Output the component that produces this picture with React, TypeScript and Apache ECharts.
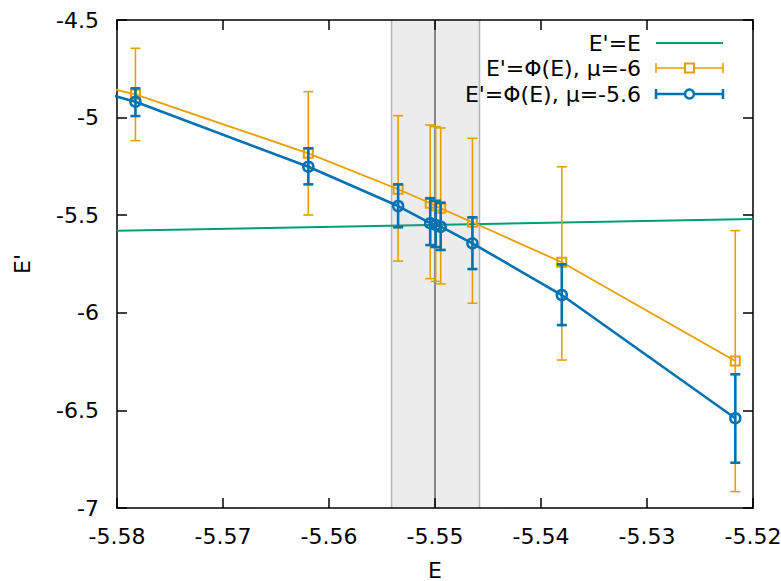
import React, { useEffect, useRef } from "react";
import * as echarts from "echarts";

// Energies E (x) of the sample points (first one lies just left of the plotted range)
const energies = [-5.59, -5.57826, -5.56195, -5.55348, -5.55045, -5.54993, -5.54946, -5.54647, -5.53804, -5.52167];
// E' = Φ(E), μ = -6
const phiMu6 = [-4.728, -4.881, -5.183, -5.367, -5.439, -5.453, -5.465, -5.536, -5.741, -6.247];
const phiMu6Low = [-4.95, -5.118, -5.499, -5.735, -5.825, -5.839, -5.852, -5.951, -6.242, -6.916];
const phiMu6High = [-4.5, -4.645, -4.867, -4.99, -5.038, -5.046, -5.053, -5.106, -5.252, -5.579];
// E' = Φ(E), μ = -5.6
const phiMu56 = [-4.742, -4.9185, -5.2515, -5.453, -5.541, -5.55, -5.559, -5.644, -5.909, -6.54];
const phiMu56Low = [-4.81, -4.992, -5.342, -5.562, -5.653, -5.663, -5.678, -5.776, -6.063, -6.768];
const phiMu56High = [-4.67, -4.85, -5.157, -5.342, -5.413, -5.426, -5.436, -5.511, -5.752, -6.315];
// Identity line E' = E
const identityE = [-5.58, -5.52];
// Shaded uncertainty band and its centre
const bandRange = [-5.5541, -5.5458];
const bandCentre = -5.55;

const xTicks = { min: -5.58, max: -5.52, interval: 0.01 };
const yTicks = { min: -7, max: -4.5, interval: 0.5 };

const legendLabels = ["E'=E", "E'=Φ(E), μ=-6", "E'=Φ(E), μ=-5.6"];

const GREEN = "#009e73";
const ORANGE = "#e69f00";
const BLUE = "#0072b2";
const FONT = "DejaVu Sans";
const FS = 22;

function errorBarSeries(name: string, low: number[], high: number[], color: string, width: number, z: number) {
  return {
    type: "custom",
    name,
    z,
    clip: true,
    data: energies.map((e, i) => [e, low[i], high[i]]),
    encode: { x: 0, y: [1, 2] },
    renderItem: (params: any, api: any) => {
      const x = api.value(0);
      const lo = api.coord([x, api.value(1)]);
      const hi = api.coord([x, api.value(2)]);
      const half = 5;
      const style = { stroke: color, lineWidth: width };
      return {
        type: "group",
        children: [
          { type: "line", shape: { x1: lo[0], y1: lo[1], x2: hi[0], y2: hi[1] }, style },
          { type: "line", shape: { x1: lo[0] - half, y1: lo[1], x2: lo[0] + half, y2: lo[1] }, style },
          { type: "line", shape: { x1: hi[0] - half, y1: hi[1], x2: hi[0] + half, y2: hi[1] }, style },
        ],
      };
    },
  };
}

export default function App() {
  const ref = useRef<HTMLDivElement>(null);

  useEffect(() => {
    if (!ref.current) return;
    const chart = echarts.init(ref.current, undefined, { renderer: "svg" });

    const axisLine = { show: true, lineStyle: { color: "#000", width: 1.5 } };
    const axisTick = { show: true, inside: true, length: 10, lineStyle: { color: "#000", width: 1.5 } };
    const labelStyle = { fontSize: FS, color: "#000", fontFamily: FONT };

    // legend geometry
    const lx1 = 656, lx2 = 723, lxm = (lx1 + lx2) / 2, textX = 641;
    const rows = [43, 68, 94];
    const legendGraphics: any[] = [];
    legendLabels.forEach((t, i) => {
      legendGraphics.push({
        type: "text",
        x: textX,
        y: rows[i],
        style: { text: t, fill: "#000", font: `${FS}px '${FONT}'`, textAlign: "right", textVerticalAlign: "middle" },
        z: 100,
      });
    });
    legendGraphics.push({ type: "line", shape: { x1: lx1, y1: rows[0], x2: lx2, y2: rows[0] }, style: { stroke: GREEN, lineWidth: 2 }, z: 100 });
    const capRow = (y: number, color: string, w: number) => [
      { type: "line", shape: { x1: lx1, y1: y, x2: lx2, y2: y }, style: { stroke: color, lineWidth: w }, z: 100 },
      { type: "line", shape: { x1: lx1, y1: y - 5, x2: lx1, y2: y + 5 }, style: { stroke: color, lineWidth: w }, z: 100 },
      { type: "line", shape: { x1: lx2, y1: y - 5, x2: lx2, y2: y + 5 }, style: { stroke: color, lineWidth: w }, z: 100 },
    ];
    legendGraphics.push(...capRow(rows[1], ORANGE, 1.6));
    legendGraphics.push({ type: "rect", shape: { x: lxm - 4.5, y: rows[1] - 4.5, width: 9, height: 9 }, style: { fill: "#fff", stroke: ORANGE, lineWidth: 2 }, z: 101 });
    legendGraphics.push(...capRow(rows[2], BLUE, 2.6));
    legendGraphics.push({ type: "circle", shape: { cx: lxm, cy: rows[2], r: 4.5 }, style: { fill: "#fff", stroke: BLUE, lineWidth: 2.5 }, z: 101 });

    const option: any = {
      animation: false,
      backgroundColor: "#fff",
      grid: { left: 117, right: 28, top: 20, bottom: 73, outerBoundsMode: "none", containLabel: false },
      xAxis: [
        {
          type: "value",
          position: "bottom",
          min: xTicks.min,
          max: xTicks.max,
          interval: xTicks.interval,
          axisLine,
          axisTick,
          splitLine: { show: false },
          axisLabel: { ...labelStyle, margin: 17, formatter: (v: number) => v.toFixed(2) },
          name: "E",
          nameLocation: "middle",
          nameGap: 52,
          nameTextStyle: { ...labelStyle, lineHeight: 20 },
        },
        {
          type: "value",
          position: "top",
          min: xTicks.min,
          max: xTicks.max,
          interval: xTicks.interval,
          axisLine,
          axisTick,
          splitLine: { show: false },
          axisLabel: { show: false },
        },
      ],
      yAxis: [
        {
          type: "value",
          position: "left",
          min: yTicks.min,
          max: yTicks.max,
          interval: yTicks.interval,
          axisLine,
          axisTick,
          splitLine: { show: false },
          axisLabel: { ...labelStyle, margin: 18 },
          name: "E'",
          nameLocation: "middle",
          nameGap: 84,
          nameRotate: 90,
          nameTextStyle: labelStyle,
        },
        {
          type: "value",
          position: "right",
          min: yTicks.min,
          max: yTicks.max,
          interval: yTicks.interval,
          axisLine,
          axisTick,
          splitLine: { show: false },
          axisLabel: { show: false },
        },
      ],
      series: [
        {
          type: "custom",
          name: "band",
          z: 0,
          data: [[bandRange[0], bandRange[1], bandCentre]],
          encode: { x: [0, 1, 2] },
          renderItem: (params: any, api: any) => {
            const cs = params.coordSys;
            const y0 = cs.y, y1 = cs.y + cs.height;
            const a = api.coord([api.value(0), yTicks.min])[0];
            const b = api.coord([api.value(1), yTicks.min])[0];
            const c = api.coord([api.value(2), yTicks.min])[0];
            return {
              type: "group",
              children: [
                { type: "rect", shape: { x: a, y: y0, width: b - a, height: y1 - y0 }, style: { fill: "#ececec" } },
                { type: "line", shape: { x1: a, y1: y0, x2: a, y2: y1 }, style: { stroke: "#b4b4b4", lineWidth: 1.5 } },
                { type: "line", shape: { x1: b, y1: y0, x2: b, y2: y1 }, style: { stroke: "#b4b4b4", lineWidth: 1.5 } },
                { type: "line", shape: { x1: c, y1: y0, x2: c, y2: y1 }, style: { stroke: "#666", lineWidth: 1.5 } },
              ],
            };
          },
        },
        {
          type: "line",
          name: legendLabels[0],
          z: 2,
          data: identityE.map((e) => [e, e]),
          symbol: "none",
          lineStyle: { color: GREEN, width: 2 },
        },
        errorBarSeries("err6", phiMu6Low, phiMu6High, ORANGE, 1.6, 3),
        {
          type: "line",
          name: legendLabels[1],
          z: 3,
          data: energies.map((e, i) => [e, phiMu6[i]]),
          symbol: "rect",
          symbolSize: 9,
          itemStyle: { color: "transparent", borderColor: ORANGE, borderWidth: 2 },
          lineStyle: { color: ORANGE, width: 1.8 },
        },
        errorBarSeries("err56", phiMu56Low, phiMu56High, BLUE, 2.6, 4),
        {
          type: "line",
          name: legendLabels[2],
          z: 4,
          data: energies.map((e, i) => [e, phiMu56[i]]),
          symbol: "circle",
          symbolSize: 10,
          itemStyle: { color: "transparent", borderColor: BLUE, borderWidth: 2.5 },
          lineStyle: { color: BLUE, width: 2.6 },
        },
      ],
      graphic: legendGraphics,
    };
    chart.setOption(option);
    return () => chart.dispose();
  }, []);

  return <div ref={ref} style={{ position: "fixed", left: 0, top: 0, width: 781, height: 581 }} />;
}
